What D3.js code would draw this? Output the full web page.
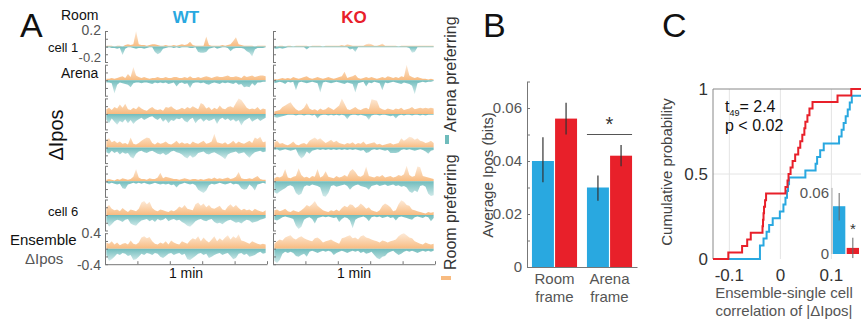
<!DOCTYPE html>
<html>
<head>
<meta charset="utf-8">
<script src="https://cdn.jsdelivr.net/npm/d3@7"></script>
<style>
  body { margin: 0; background: #fff; }
  svg text { font-family: "Liberation Sans", Arial, sans-serif; }
</style>
</head>
<body>
<svg id="chart" width="861" height="323"></svg>
<script>
// ---------- data ----------
// panel A: dIpos traces, 5 s bins over 5 min, values in hundredths of bits
// room preferring (positive) and arena preferring (negative, stored as magnitude)
const binSeconds = 5;
const wtRoom = [
  [1,1,1,0,1,1,0,2,3,2,3,20,3,2,2,1,2,3,3,2,1,1,2,1,1,2,1,2,3,2,3,6,2,1,1,1,1,13,2,1,1,1,1,2,1,2,3,7,12,3,2,1,1,1,1,0,1,1,1,1],
  [2,2,3,2,3,4,5,3,8,4,17,6,4,3,4,3,2,3,3,4,3,3,4,3,3,4,4,3,3,4,3,5,3,3,4,3,4,5,4,3,4,5,4,4,5,6,4,4,5,4,3,6,4,5,6,4,5,6,6,5],
  [6,8,5,9,7,12,8,13,6,5,8,6,10,7,5,4,7,9,6,5,6,4,9,8,10,7,5,6,8,6,9,7,10,8,6,14,12,7,9,5,8,6,11,7,6,9,10,8,14,20,18,13,8,6,7,6,9,5,7,6],
  [10,12,7,9,6,8,5,6,4,13,5,4,6,9,11,13,12,6,4,7,5,6,8,5,4,6,9,5,7,5,6,4,8,6,5,7,9,5,6,8,18,7,6,5,7,4,6,9,5,8,6,5,7,9,6,13,11,14,7,8],
  [2,3,2,1,3,2,4,3,2,3,6,16,5,3,3,2,4,3,3,5,11,4,6,5,4,3,3,2,3,4,3,2,3,3,2,3,2,3,4,3,5,3,4,3,4,5,3,4,6,12,4,3,3,4,3,5,7,3,2,2],
  [10,13,8,6,7,5,9,6,4,7,6,5,8,16,18,14,17,9,6,5,7,6,5,4,6,5,7,11,9,13,8,7,6,14,16,12,15,10,13,9,8,10,12,7,6,11,14,10,13,9,6,8,6,7,5,8,6,5,4,6],
  [16,13,19,11,16,9,13,15,11,21,13,11,16,29,32,27,30,19,13,11,16,13,19,11,21,16,13,11,19,16,13,21,27,24,32,19,29,21,16,24,32,19,27,21,29,35,24,32,27,37,21,19,16,13,19,16,13,11,13,11]
];
const wtArena = [
  [2,1,2,2,3,2,11,3,1,1,2,3,2,2,3,2,1,1,7,10,8,3,2,1,1,2,1,2,1,1,1,2,2,1,7,8,8,7,3,2,1,3,2,1,1,2,6,3,2,2,2,3,6,8,13,4,2,2,2,1],
  [3,3,4,17,6,3,4,5,6,9,4,3,3,4,3,3,4,5,3,4,3,4,3,5,4,3,8,4,3,5,4,10,4,3,3,4,3,5,6,4,3,4,5,3,4,3,4,5,3,6,5,9,8,9,4,7,3,3,2,2],
  [8,12,6,10,14,9,11,7,12,8,13,9,7,5,8,6,4,3,6,8,5,10,7,12,8,9,6,7,5,9,11,7,5,12,8,6,10,7,9,8,6,13,7,5,8,6,9,7,10,8,15,9,7,5,10,8,6,9,7,5],
  [6,8,4,7,5,9,6,8,7,12,14,8,5,4,6,7,5,4,6,8,9,7,10,8,5,4,6,7,9,12,14,10,13,11,7,6,5,8,9,7,6,8,10,12,15,9,7,6,5,8,7,6,10,13,9,6,5,4,6,5],
  [2,3,2,3,4,3,9,10,4,3,2,3,2,3,2,3,4,3,2,3,4,3,4,3,5,4,8,4,3,2,3,4,3,5,11,13,15,12,5,3,4,3,2,3,4,3,2,4,3,4,9,11,10,4,7,12,4,3,2,3],
  [9,15,12,8,6,7,9,6,5,11,13,14,10,7,6,5,8,6,9,5,7,6,4,8,6,5,7,6,9,11,14,15,12,8,6,5,7,8,6,5,9,11,10,12,9,7,6,8,10,9,11,8,6,7,10,9,8,6,5,4],
  [16,32,27,21,13,16,11,13,19,16,29,27,21,13,16,11,13,16,11,13,21,24,19,13,11,16,13,11,16,13,27,29,24,19,13,11,16,13,24,21,16,13,11,16,13,11,19,27,24,13,11,16,13,21,19,16,11,8,13,11]
];
const koRoom = [
  [1,0,1,1,0,1,1,0,1,1,1,1,1,0,1,1,1,1,0,1,1,1,1,1,1,2,1,3,2,1,1,1,1,1,3,4,3,1,1,2,4,1,1,1,1,1,0,1,1,1,1,1,1,1,1,1,1,1,1,1],
  [2,1,2,3,2,3,2,4,3,2,3,4,5,3,2,3,4,3,2,3,4,3,2,3,4,5,11,3,4,5,7,3,2,3,4,3,4,3,2,3,4,3,5,4,3,4,3,5,4,20,6,4,3,4,3,2,2,1,2,1],
  [3,4,5,9,11,13,15,10,6,4,5,8,14,7,5,6,4,7,5,6,9,7,5,8,11,20,13,6,5,7,9,6,5,7,8,6,19,18,17,8,6,5,7,6,5,7,6,8,5,6,7,9,6,7,8,7,8,7,8,7],
  [7,9,5,6,4,3,5,8,4,3,5,6,4,9,11,13,10,12,9,6,8,10,7,9,6,5,4,6,5,7,4,6,5,8,4,5,6,7,4,5,3,4,5,6,4,5,6,12,9,11,14,13,10,12,9,8,6,7,9,6],
  [4,6,5,7,16,5,4,6,7,17,8,5,6,4,7,6,16,5,7,13,6,5,4,7,5,6,8,6,13,16,12,7,6,8,19,7,6,5,7,6,8,5,6,7,5,6,8,7,9,20,8,6,7,19,18,7,6,5,4,3],
  [6,7,5,6,8,5,4,6,5,4,6,9,13,11,14,18,12,9,6,5,4,6,5,7,5,9,12,10,14,13,9,11,15,12,8,10,6,5,4,6,12,15,13,10,5,6,14,19,17,13,12,7,6,5,4,3,2,4,3,4],
  [13,19,24,21,29,32,35,27,24,29,32,27,24,21,19,27,29,24,16,19,21,24,19,16,13,27,29,32,35,27,29,24,32,35,29,27,24,21,19,16,21,19,16,19,21,24,32,37,40,35,29,27,19,16,13,11,16,13,11,13]
];
const koArena = [
  [3,3,2,3,2,1,1,1,1,1,1,1,4,1,1,1,1,1,1,1,1,1,1,1,1,1,1,1,4,3,7,1,1,1,1,1,1,1,1,1,1,1,1,1,1,1,1,1,1,1,2,8,7,1,1,1,1,1,1,1],
  [4,3,2,3,5,2,3,2,13,3,2,3,4,3,2,3,4,16,3,2,3,4,3,2,3,4,5,3,4,5,16,4,3,2,8,3,4,2,3,4,13,3,4,3,2,3,4,5,3,4,5,7,18,4,3,2,3,2,2,1],
  [4,5,4,3,2,1,1,1,2,1,1,2,1,1,2,1,6,2,1,1,2,1,2,1,2,1,2,7,2,1,1,2,1,2,3,8,2,1,1,2,1,1,2,3,2,6,2,1,2,1,1,2,1,1,2,1,2,1,1,1],
  [3,2,4,3,2,3,4,3,2,10,14,11,5,8,4,3,2,3,2,3,2,3,2,3,2,3,2,3,2,3,2,3,4,3,7,6,3,2,3,2,3,4,3,7,7,7,6,3,2,3,2,3,4,3,2,3,5,8,4,3],
  [14,16,13,11,9,6,5,7,15,18,16,7,5,6,4,5,6,8,19,20,15,6,5,7,6,5,4,6,11,7,5,4,6,7,8,11,6,5,4,6,5,4,6,5,4,6,5,7,6,8,13,15,12,14,6,5,7,16,19,18],
  [6,7,5,3,2,3,4,5,14,18,15,6,4,3,5,11,4,3,2,3,2,3,4,3,9,5,3,4,7,17,6,4,3,2,4,8,3,2,3,2,4,3,2,4,3,7,3,2,3,4,5,6,3,2,3,4,2,3,8,4],
  [32,37,29,13,8,11,8,11,19,21,16,13,21,8,5,8,11,8,5,8,5,8,16,11,8,5,8,11,8,5,8,5,11,8,13,11,8,16,24,27,21,19,11,8,5,11,16,13,8,5,8,5,8,11,8,5,8,5,8,5]
];

// panel B: average Ipos (bits)
const genotypes = ["WT", "KO"];
const frames = ["Room frame", "Arena frame"];
const wtIpos = [0.040, 0.030];
const koIpos = [0.056, 0.042];
const wtIposErr = [[0.032, 0.049], [0.025, 0.0345]];
const koIposErr = [[0.050, 0.062], [0.038, 0.046]];

// panel C: ensemble-single cell correlation of |dIpos|
const wtCorr = [-0.04,-0.04,-0.033,-0.027,-0.022,-0.015,-0.001,0.006,0.01,0.013,0.015,0.017,
  0.049,0.069,0.072,0.078,0.085,0.115,0.12,0.124,0.128,0.132,0.136,0.14,0.17];
const koCorr = [-0.102,-0.075,-0.065,-0.058,-0.035,-0.034,-0.033,-0.032,-0.03,-0.028,
  0.01,0.014,0.016,0.02,0.024,0.029,0.035,0.039,0.043,0.047,0.049,0.053,0.057,0.063,0.112,0.139];
const insetMean = [0.047, 0.006];
const insetErr = [[0.033, 0.060], [-0.004, 0.016]];

// ---------- style ----------
const blue = "#29a8e0", red = "#e8202a";
const orange = "#f8bb80", teal = "#6fbcbc";
const axisGray = "#777", labelGray = "#555";

const svg = d3.select("#chart");
const defs = svg.append("defs");

// fading fills for the traces (strong at the baseline, pale at the tips)
function fadeGradient(id, color, up) {
  const gr = defs.append("linearGradient").attr("id", id)
    .attr("x1", 0).attr("x2", 0).attr("y1", up ? 1 : 0).attr("y2", up ? 0 : 1);
  gr.append("stop").attr("offset", "0%").attr("stop-color", color).attr("stop-opacity", 1);
  gr.append("stop").attr("offset", "100%").attr("stop-color", color).attr("stop-opacity", 0.3);
}
fadeGradient("fadeUp", orange, true);
fadeGradient("fadeDown", teal, false);

function styleAxis(g) {
  g.selectAll("path, line").attr("stroke", axisGray);
  g.selectAll("text").attr("fill", labelGray);
}

function addText(x, y, str, opts = {}) {
  return svg.append("text")
    .attr("x", x).attr("y", y)
    .attr("font-size", opts.size || 14)
    .attr("fill", opts.color || "#111")
    .attr("text-anchor", opts.anchor || "start")
    .attr("font-weight", opts.weight || "normal")
    .attr("transform", opts.rotate ? `rotate(-90, ${x}, ${y})` : null)
    .text(str);
}

// ---------- panel A ----------
const rowTop = d3.scaleLinear().domain([0, 6]).range([31, 233.2]);
const rowHeight = 31;

function drawTraces(upRows, downRows, x0, x1) {
  const x = d3.scaleLinear().domain([0, 300]).range([x0, x1]);
  const g = svg.append("g");
  upRows.forEach((up, r) => {
    const down = downRows[r];
    const top = rowTop(r);
    const lim = r === 6 ? 40 : 20;
    const y = d3.scaleLinear().domain([-lim, lim]).range([top + rowHeight, top]);
    const t = (i) => x((i + 0.5) * binSeconds);

    g.append("path").datum(up)
      .attr("d", d3.area().x((d, i) => t(i)).y0(y(0)).y1(d => y(d)))
      .attr("fill", "url(#fadeUp)");
    g.append("path").datum(down)
      .attr("d", d3.area().x((d, i) => t(i)).y0(y(0)).y1(d => y(-d)))
      .attr("fill", "url(#fadeDown)");

    g.append("g")
      .attr("transform", `translate(${x0},0)`)
      .call(d3.axisRight(y).tickValues([-lim, -lim / 2, 0, lim / 2, lim])
        .tickSize(3).tickSizeOuter(0).tickFormat(""))
      .call(styleAxis);
  });
  // time axis under the last row
  g.append("g")
    .attr("transform", `translate(0,${rowTop(6) + rowHeight})`)
    .call(d3.axisTop(x).tickValues(d3.range(0, 301, 60)).tickSize(3).tickSizeOuter(0).tickFormat(""))
    .call(styleAxis);
  return x;
}

drawTraces(wtRoom, wtArena, 105, 267);
drawTraces(koRoom, koArena, 273, 435);

addText(20, 37, "A", { size: 34 });
addText(186, 23, "WT", { size: 17, weight: "bold", color: blue, anchor: "middle" });
addText(354, 23, "KO", { size: 17, weight: "bold", color: red, anchor: "middle" });
addText(61, 20, "Room", { size: 14 });
addText(101, 35, "0.2", { size: 14, color: labelGray, anchor: "end" });
addText(48, 52, "cell 1", { size: 13 });
addText(101, 62, "-0.2", { size: 13, color: labelGray, anchor: "end" });
addText(61, 78, "Arena", { size: 14 });
addText(63, 135, "\u0394Ipos", { size: 20, anchor: "middle", rotate: true });
addText(48, 216, "cell 6", { size: 13 });
addText(10, 245, "Ensemble", { size: 15 });
addText(101, 238, "0.4", { size: 14, color: labelGray, anchor: "end" });
addText(25, 264, "\u0394Ipos", { size: 15, color: labelGray });
addText(101, 270, "-0.4", { size: 14, color: labelGray, anchor: "end" });
addText(186, 278, "1 min", { size: 14, anchor: "middle" });
addText(354, 278, "1 min", { size: 14, anchor: "middle" });

// legend on the right
addText(456, 132, "Arena preferring", { size: 16, color: "#333", rotate: true });
svg.append("rect").attr("x", 445).attr("y", 135).attr("width", 4).attr("height", 9).attr("fill", teal);
addText(456, 270, "Room preferring", { size: 16, color: "#333", rotate: true });
svg.append("rect").attr("x", 441).attr("y", 276).attr("width", 10).attr("height", 4).attr("fill", orange);

// ---------- panel B ----------
const yB = d3.scaleLinear().domain([0, 0.07]).range([267, 81.5]);
const xB = d3.scaleBand().domain(frames).range([527, 637]).paddingInner(0.18).paddingOuter(0.09);
const xSub = d3.scaleBand().domain(genotypes).range([0, xB.bandwidth()]).paddingInner(0.05);

const barsB = frames.flatMap((f, i) => [
  { frame: f, geno: "WT", v: wtIpos[i], err: wtIposErr[i] },
  { frame: f, geno: "KO", v: koIpos[i], err: koIposErr[i] }
]);

svg.append("g").selectAll("rect").data(barsB).join("rect")
  .attr("x", d => xB(d.frame) + xSub(d.geno))
  .attr("y", d => yB(d.v))
  .attr("width", xSub.bandwidth())
  .attr("height", d => yB(0) - yB(d.v))
  .attr("fill", d => d.geno === "WT" ? blue : red);

svg.append("g").selectAll("line").data(barsB).join("line")
  .attr("x1", d => xB(d.frame) + xSub(d.geno) + xSub.bandwidth() / 2)
  .attr("x2", d => xB(d.frame) + xSub(d.geno) + xSub.bandwidth() / 2)
  .attr("y1", d => yB(d.err[0]))
  .attr("y2", d => yB(d.err[1]))
  .attr("stroke", "#333").attr("stroke-width", 1.2);

svg.append("g")
  .attr("transform", "translate(527,0)")
  .call(d3.axisLeft(yB).tickValues(d3.range(8).map(i => i / 100))
    .tickSize(-3).tickSizeOuter(0).tickPadding(5)
    .tickFormat(d => Math.round(d * 100) % 2 ? "" : (d === 0 ? "0" : d.toFixed(2))))
  .call(styleAxis)
  .call(g => g.selectAll("text").attr("font-size", 15).attr("font-family", "Liberation Sans, Arial, sans-serif"));

svg.append("g")
  .attr("transform", `translate(0,${yB(0)})`)
  .call(d3.axisBottom(xB).tickSize(0).tickSizeOuter(0).tickFormat(""))
  .call(styleAxis);

frames.forEach(f => {
  const [w1, w2] = f.split(" ");
  const cx = xB(f) + xB.bandwidth() / 2;
  addText(cx, 284, w1, { size: 15, color: labelGray, anchor: "middle" });
  addText(cx, 302, w2, { size: 15, color: labelGray, anchor: "middle" });
});

svg.append("line")
  .attr("x1", xB("Arena frame")).attr("x2", xB("Arena frame") + xB.bandwidth())
  .attr("y1", yB(0.05)).attr("y2", yB(0.05))
  .attr("stroke", labelGray);
addText(xB("Arena frame") + xB.bandwidth() / 2, yB(0.0505) - 2, "*", { size: 20, anchor: "middle", color: "#333" });

addText(493, 175, "Average Ipos (bits)", { size: 15, color: "#444", anchor: "middle", rotate: true });
addText(483, 37, "B", { size: 34 });

// ---------- panel C ----------
const xC = d3.scaleLinear().domain([-0.132, 0.158]).range([713, 861]);
const yC = d3.scaleLinear().domain([0, 1]).range([259, 89]);

const gridC = svg.append("g");
[-0.1, 0, 0.1].forEach(v => gridC.append("line")
  .attr("x1", xC(v)).attr("x2", xC(v)).attr("y1", yC(0)).attr("y2", yC(1))
  .attr("stroke", "#e4e4e4"));
gridC.append("line").attr("x1", xC.range()[0]).attr("x2", xC.range()[1])
  .attr("y1", yC(0.5)).attr("y2", yC(0.5)).attr("stroke", "#e4e4e4");

// frame (top and left)
svg.append("line").attr("x1", xC.range()[0]).attr("x2", xC.range()[1])
  .attr("y1", yC(1)).attr("y2", yC(1)).attr("stroke", "#888");
svg.append("line").attr("x1", xC.range()[0]).attr("x2", xC.range()[0])
  .attr("y1", yC(1)).attr("y2", yC(0)).attr("stroke", "#888");

svg.append("clipPath").attr("id", "clipC")
  .append("rect").attr("x", 713).attr("y", 85).attr("width", 150).attr("height", 180);

function cdfPoints(values) {
  const s = d3.sort(values);
  const pts = [[xC.domain()[0], 0]];
  s.forEach((v, i) => pts.push([v, (i + 1) / s.length]));
  pts.push([xC.domain()[1] + 0.05, 1]);
  return pts;
}
const cdfLine = d3.line().x(d => xC(d[0])).y(d => yC(d[1])).curve(d3.curveStepAfter);
const gC = svg.append("g").attr("clip-path", "url(#clipC)");
gC.append("path").datum(cdfPoints(wtCorr)).attr("d", cdfLine)
  .attr("fill", "none").attr("stroke", blue).attr("stroke-width", 2);
gC.append("path").datum(cdfPoints(koCorr)).attr("d", cdfLine)
  .attr("fill", "none").attr("stroke", red).attr("stroke-width", 2);

[[1, "1"], [0.5, "0.5"], [0, "0"]].forEach(([v, s]) =>
  addText(708, yC(v) + 6, s, { size: 17, color: "#333", anchor: "end" }));
[[-0.1, "-0.1"], [0, "0"], [0.1, "0.1"]].forEach(([v, s]) =>
  addText(xC(v), 281, s, { size: 17, color: "#333", anchor: "middle" }));

// inset bars
const yIn = d3.scaleLinear().domain([0, 0.06]).range([254, 193]);
const xIn = d3.scaleBand().domain(genotypes).range([833, 859]).paddingInner(0.1);
svg.append("g").selectAll("rect").data(genotypes).join("rect")
  .attr("x", d => xIn(d)).attr("width", xIn.bandwidth())
  .attr("y", (d, i) => yIn(insetMean[i]))
  .attr("height", (d, i) => yIn(0) - yIn(insetMean[i]))
  .attr("fill", d => d === "WT" ? blue : red);
svg.append("g").selectAll("line").data(genotypes).join("line")
  .attr("x1", d => xIn(d) + xIn.bandwidth() / 2).attr("x2", d => xIn(d) + xIn.bandwidth() / 2)
  .attr("y1", (d, i) => yIn(insetErr[i][0])).attr("y2", (d, i) => yIn(insetErr[i][1]))
  .attr("stroke", "#666").attr("stroke-width", 1);
svg.append("line").attr("x1", 832).attr("x2", 832).attr("y1", yIn(0.065)).attr("y2", yIn(0))
  .attr("stroke", "#aaa");
addText(829, yIn(0.06) + 5, "0.06", { size: 15, color: labelGray, anchor: "end" });
addText(829, yIn(0) + 5, "0", { size: 15, color: labelGray, anchor: "end" });
addText(xIn("KO") + xIn.bandwidth() / 2, 234, "*", { size: 15, color: "#333", anchor: "middle" });

// stats text
const tText = svg.append("text").attr("x", 725).attr("y", 112).attr("font-size", 16).attr("fill", "#111");
tText.append("tspan").text("t");
tText.append("tspan").attr("dy", 4).attr("font-size", 9).text("49");
tText.append("tspan").attr("dy", -4).text("= 2.4");
addText(725, 131, "p < 0.02", { size: 16 });

addText(672, 172, "Cumulative probability", { size: 15, color: "#444", anchor: "middle", rotate: true });
addText(784, 298, "Ensemble-single cell", { size: 15, color: labelGray, anchor: "middle" });
addText(784, 316, "correlation of |\u0394Ipos|", { size: 15, color: labelGray, anchor: "middle" });
addText(662, 37, "C", { size: 34 });
</script>
</body>
</html>
